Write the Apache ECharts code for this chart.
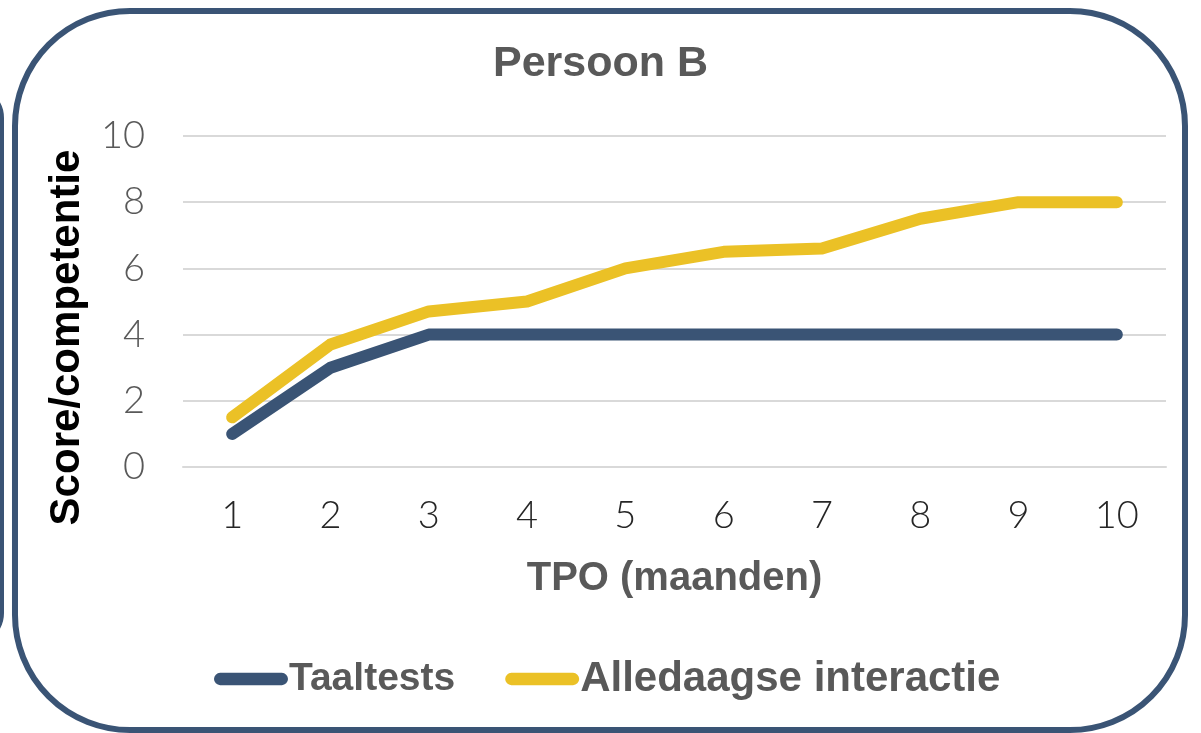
<!DOCTYPE html>
<html>
<head>
<meta charset="utf-8">
<script src="https://cdn.jsdelivr.net/npm/echarts@6/dist/echarts.min.js"></script>
<style>
    html, body { margin: 0; padding: 0; background: #fff; }
    #main { width: 1201px; height: 733px; }
</style>
</head>
<body>
<div id="main"></div>
<script>
var months = ['1', '2', '3', '4', '5', '6', '7', '8', '9', '10'];
var taaltests = [1, 3, 4, 4, 4, 4, 4, 4, 4, 4];
var alledaags = [1.5, 3.7, 4.7, 5, 6, 6.5, 6.6, 7.5, 8, 8];
var yTicks = { min: 0, max: 10, interval: 2 };

var color = ['#3A5475', '#EBC126'];
var pill = 'path://M6,0 L66,0 A6,6 0 0 1 66,12 L6,12 A6,6 0 0 1 6,0 Z';

var myChart = echarts.init(document.getElementById('main'));

var option = {
    backgroundColor: '#ffffff',
    color: color,
    title: {
        text: 'Persoon B',
        left: 'center',
        top: 38,
        textStyle: {
            fontFamily: 'Liberation Sans',
            fontSize: 43,
            fontWeight: 'bold',
            color: '#595959'
        }
    },
    legend: {
        left: 209,
        top: 653,
        itemWidth: 74,
        itemHeight: 13,
        itemGap: 50,
        icon: pill,
        textStyle: {
            fontFamily: 'Liberation Sans',
            fontSize: 39,
            fontWeight: 'bold',
            color: '#595959',
            padding: [0, 0, 0, -4]
        },
        data: [
            { name: 'Taaltests' },
            { name: 'Alledaagse interactie', textStyle: { fontSize: 42 } }
        ]
    },
    grid: {
        left: 183,
        right: 35,
        top: 136,
        bottom: 266
    },
    xAxis: {
        type: 'category',
        boundaryGap: true,
        data: months,
        name: 'TPO (maanden)',
        nameLocation: 'middle',
        nameGap: 92,
        nameTextStyle: {
            fontFamily: 'Liberation Sans',
            fontSize: 40,
            fontWeight: 'bold',
            color: '#595959'
        },
        axisLine: { lineStyle: { color: '#d9d9d9', width: 2 } },
        axisTick: { show: false },
        axisLabel: {
            margin: 30,
            fontFamily: 'Lato',
            fontWeight: 300,
            fontSize: 38,
            color: '#262626'
        }
    },
    yAxis: {
        type: 'value',
        min: yTicks.min,
        max: yTicks.max,
        interval: yTicks.interval,
        name: 'Score/competentie',
        nameLocation: 'middle',
        nameGap: 95,
        nameTextStyle: {
            fontFamily: 'Liberation Sans',
            fontSize: 42,
            fontWeight: 'bold',
            color: '#000000',
            padding: [0, 72, 0, 0]
        },
        axisLine: { show: false },
        axisTick: { show: false },
        splitLine: { lineStyle: { color: '#d9d9d9', width: 2 } },
        axisLabel: {
            margin: 38,
            fontFamily: 'Lato',
            fontWeight: 300,
            fontSize: 38,
            color: '#595959'
        }
    },
    graphic: [
        {
            type: 'rect',
            shape: { x: 15, y: 11, width: 1170, height: 719, r: 115 },
            style: { fill: 'none', stroke: '#3A5475', lineWidth: 6 },
            silent: true
        },
        {
            type: 'rect',
            shape: { x: -400, y: 88, width: 402, height: 555, r: 30 },
            style: { fill: 'none', stroke: '#3A5475', lineWidth: 4 },
            silent: true
        }
    ],
    series: [
        {
            name: 'Taaltests',
            type: 'line',
            data: taaltests,
            symbol: 'none',
            lineStyle: { width: 12, cap: 'round', join: 'round', color: color[0] }
        },
        {
            name: 'Alledaagse interactie',
            type: 'line',
            data: alledaags,
            symbol: 'none',
            lineStyle: { width: 12, cap: 'round', join: 'round', color: color[1] }
        }
    ]
};
myChart.setOption(option);
</script>
</body>
</html>
